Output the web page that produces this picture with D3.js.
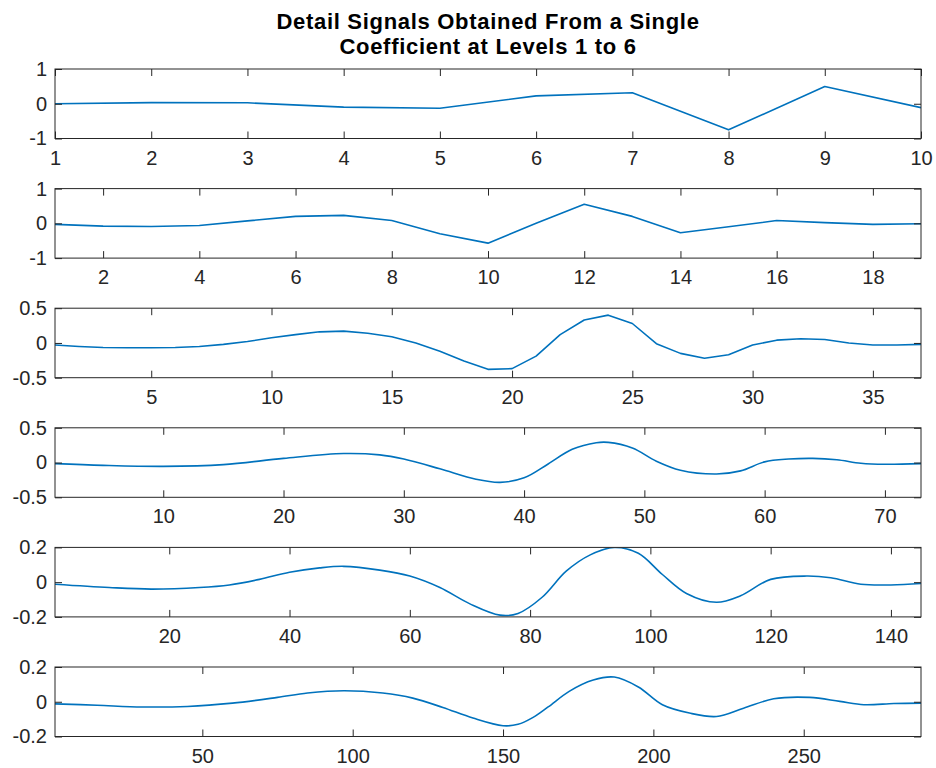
<!DOCTYPE html>
<html><head><meta charset="utf-8">
<script src="https://cdn.jsdelivr.net/npm/d3@7"></script>
<style>body{margin:0;background:#fff}</style></head>
<body>
<script>
// ---- data ----
const titleLines = ["Detail Signals Obtained From a Single", "Coefficient at Levels 1 to 6"];

const level1X = [1,2,3,4,5,6,7,8,9,10];
const level1Y = [0.0006,0.0316,0.0275,-0.0975,-0.1298,0.2263,0.3153,-0.7511,0.4946,-0.1115];

const level2X = [1,2,3,4,5,6,7,8,9,10,11,12,13,14,15,16,17,18,19];
const level2Y = [-0.03,-0.08,-0.09,-0.06,0.07,0.2,0.23,0.08,-0.3,-0.57,0.0,0.55,0.2,-0.27,-0.1,0.08,0.02,-0.03,-0.01];

const level3X = [1,2,3,4,5,6,7,8,9,10,11,12,13,14,15,16,17,18,19,20,21,22,23,24,25,26,27,28,29,30,31,32,33,34,35,36,37];
const level3Y = [-0.03,-0.05,-0.065,-0.07,-0.07,-0.065,-0.05,-0.02,0.02,0.075,0.12,0.16,0.17,0.14,0.09,0.0,-0.12,-0.26,-0.38,-0.37,-0.19,0.12,0.33,0.40,0.28,-0.01,-0.15,-0.22,-0.17,-0.03,0.04,0.06,0.05,0.0,-0.03,-0.03,-0.02];

const level4X = [1,5,10,15,20,25,28,30,33,36,38,40,42,44,46,47,49,51,53,56,58,60,62,64,66,68,70,73];
const level4Y = [-0.015,-0.04,-0.055,-0.03,0.06,0.13,0.11,0.05,-0.09,-0.24,-0.285,-0.22,-0.02,0.19,0.285,0.29,0.21,0.02,-0.11,-0.165,-0.12,0.01,0.05,0.06,0.04,-0.01,-0.025,-0.015];

const level5X = [1,10,17,25,30,35,40,45,49,55,60,65,70,75,78,82,86,90,94,98,102,106,111,115,120,126,130,135,140,145];
const level5Y = [-0.012,-0.031,-0.04,-0.031,-0.016,0.016,0.057,0.082,0.091,0.069,0.035,-0.031,-0.125,-0.19,-0.18,-0.087,0.063,0.157,0.2,0.166,0.044,-0.065,-0.116,-0.078,0.016,0.035,0.025,-0.012,-0.016,-0.008];

const level6X = [1,15,30,45,60,75,85,97,110,120,130,140,150,155,160,165,172,180,187,195,203,212,221,230,240,252,262,270,280,289];
const level6Y = [-0.012,-0.02,-0.03,-0.027,-0.008,0.025,0.05,0.063,0.05,0.021,-0.033,-0.094,-0.138,-0.13,-0.09,-0.03,0.06,0.125,0.142,0.085,-0.017,-0.065,-0.085,-0.037,0.017,0.025,0.002,-0.017,-0.01,-0.008];

const xDomains = [[1,10],[1,19],[1,37],[1,73],[1,145],[1,289]];
const yLimits = [1, 1, 0.5, 0.5, 0.2, 0.2];
const xTickValues = [
  [1,2,3,4,5,6,7,8,9,10],
  [2,4,6,8,10,12,14,16,18],
  [5,10,15,20,25,30,35],
  [10,20,30,40,50,60,70],
  [20,40,60,80,100,120,140],
  [50,100,150,200,250]
];

const seriesX = [level1X, level2X, level3X, level4X, level5X, level6X];
const seriesY = [level1Y, level2Y, level3Y, level4Y, level5Y, level6Y];

// ---- layout ----
const W = 936, H = 768;
const left = 55, right = 921;
const top0 = 69, step = 119.6, ph = 69.5;
const axisColor = "#262626";
const lineColor = "#0072BD";
const font = "'Liberation Sans', Arial, Helvetica, sans-serif";

const svg = d3.select("body").append("svg").attr("width", W).attr("height", H)
  .style("font-family", font);

svg.append("rect").attr("width", W).attr("height", H).attr("fill", "#fff");

// title
const title = svg.append("text")
  .attr("x", (left + right) / 2).attr("y", 29)
  .attr("text-anchor", "middle")
  .attr("font-weight", "bold").attr("font-size", 22)
  .attr("letter-spacing", "0.7px").attr("fill", "#000");
titleLines.forEach((t, i) => {
  title.append("tspan").attr("x", (left + right) / 2).attr("dy", i === 0 ? 0 : 25).text(t);
});

const fmtY = d => d === 0 ? "0" : String(d);

for (let i = 0; i < 6; i++) {
  const top = top0 + i * step, bottom = top + ph;
  const x = d3.scaleLinear().domain(xDomains[i]).range([left, right]);
  const y = d3.scaleLinear().domain([-yLimits[i], yLimits[i]]).range([bottom, top]);
  const yTicks = [-yLimits[i], 0, yLimits[i]];

  const g = svg.append("g");

  const cid = "clip" + i;
  svg.append("clipPath").attr("id", cid).append("rect")
    .attr("x", left).attr("y", top).attr("width", right - left).attr("height", ph);

  const data = seriesX[i].map((xv, k) => [xv, seriesY[i][k]]);
  const curve = i < 3 ? d3.curveLinear : d3.curveCatmullRom.alpha(0.5);
  g.append("path").datum(data)
    .attr("clip-path", `url(#${cid})`)
    .attr("fill", "none").attr("stroke", lineColor).attr("stroke-width", 1.6)
    .attr("stroke-linejoin", "round")
    .attr("d", d3.line().x(d => x(d[0])).y(d => y(d[1])).curve(curve));

  const styleAxis = sel => {
    sel.select(".domain").remove();
    sel.selectAll(".tick line").attr("stroke", axisColor).attr("stroke-width", 1);
    sel.selectAll(".tick text").attr("fill", axisColor).attr("font-size", 20)
      .attr("font-family", font);
  };

  g.append("g").attr("transform", `translate(0,${bottom})`)
    .call(d3.axisBottom(x).tickValues(xTickValues[i]).tickSize(-7).tickSizeOuter(0).tickPadding(12))
    .call(styleAxis);
  g.append("g").attr("transform", `translate(0,${top})`)
    .call(d3.axisTop(x).tickValues(xTickValues[i]).tickSize(-7).tickSizeOuter(0).tickFormat(""))
    .call(styleAxis);
  g.append("g").attr("transform", `translate(${left},0)`)
    .call(d3.axisLeft(y).tickValues(yTicks).tickSize(-7).tickSizeOuter(0).tickPadding(8).tickFormat(fmtY))
    .call(styleAxis);
  g.append("g").attr("transform", `translate(${right},0)`)
    .call(d3.axisRight(y).tickValues(yTicks).tickSize(-7).tickSizeOuter(0).tickFormat(""))
    .call(styleAxis);

  g.append("rect").attr("x", left).attr("y", top).attr("width", right - left).attr("height", ph)
    .attr("fill", "none").attr("stroke", axisColor).attr("stroke-width", 1);
}
</script>
</body></html>
